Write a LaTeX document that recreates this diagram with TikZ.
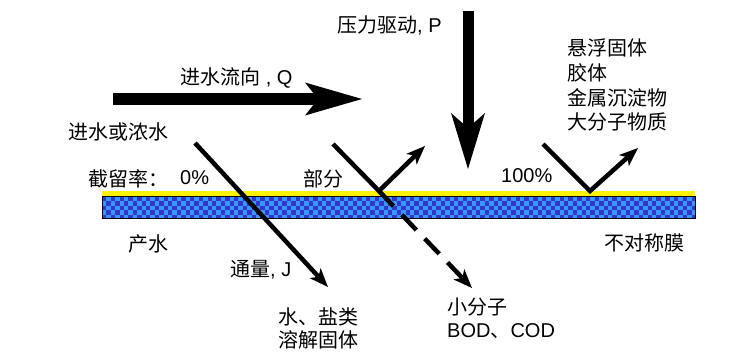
\documentclass[tikz,border=0pt]{standalone}
\usepackage{fontspec}
\setmainfont{Liberation Sans}
\newfontfamily\cjk{Noto Sans CJK SC}
\usetikzlibrary{arrows.meta}
\definecolor{lblue}{HTML}{3399FF}
\definecolor{dblue}{HTML}{3535CC}
\begin{document}
\begin{tikzpicture}[x=1pt,y=-1pt,
  txt/.style={font=\fontsize{20}{24}\selectfont, inner sep=0pt, anchor=west},
  bigarrow/.style={line width=#1},
  thinarrow/.style={line width=4.5pt, line join=miter,
     -{Stealth[length=19pt,width=15pt,inset=5pt,line width=0pt]}},
]
\useasboundingbox (0,0) rectangle (753,358);

% membrane
\fill[yellow] (102,191) rectangle (695,197);
\begin{scope}
\clip (102,197) rectangle (695,219);
\fill[lblue] (102,197) rectangle (695,219);
\foreach \j in {0,2,4}{\foreach \i in {0,2,...,134}{\fill[dblue] ({102+\i*4.4},{197+\j*4.4}) rectangle ++(4.4,4.4);}}
\foreach \j in {1,3}{\foreach \i in {1,3,...,135}{\fill[dblue] ({102+\i*4.4},{197+\j*4.4}) rectangle ++(4.4,4.4);}}
\end{scope}
\draw[line width=1pt] (102,197) rectangle (695,219);

% coordinates
\coordinate (qS) at (113,99);
\coordinate (qE) at (362,99);
\coordinate (fS) at (468,11);
\coordinate (fE) at (468,169);
\coordinate (jS) at (195,143);
\coordinate (jE) at (328,287);
\coordinate (pS) at (333,144);
\coordinate (pV) at (379,191);
\coordinate (pE) at (425,146);
\coordinate (pD) at (472,288);
\coordinate (hS) at (543,144);
\coordinate (hV) at (590,191);
\coordinate (hE) at (638,148);

% big arrows
\draw[line width=12pt, -{Stealth[length=57pt,width=33pt,inset=13pt,line width=0pt]}] (qS) -- (qE);
\draw[line width=11pt, -{Stealth[length=56pt,width=34pt,inset=15pt,line width=0pt]}] (fS) -- (fE);

% thin arrows
\draw[thinarrow] (jS) -- (jE);
\draw[thinarrow] (pS) -- (pV) -- (pE);
\draw[thinarrow, dash pattern=on 21pt off 12pt] (pV) -- (pD);
\draw[thinarrow] (hS) -- (hV) -- (hE);

% texts
\node[txt] (tP) at (337,25) {{\cjk 压力驱动}, P};
\node[txt] (tQ) at (180,78) {{\cjk 进水流向} , Q};
\node[txt] (tIn) at (68,132) {\cjk 进水或浓水};
\node[txt] (tR) at (88,179) {\cjk 截留率：};
\node[txt] (t0) at (180,178) {0\%};
\node[txt] (tPart) at (303,179) {\cjk 部分};
\node[txt] (t100) at (501,176) {100\%};
\node[txt] (l1) at (567,48) {\cjk 悬浮固体};
\node[txt] (l2) at (567,73) {\cjk 胶体};
\node[txt] (l3) at (567,98) {\cjk 金属沉淀物};
\node[txt] (l4) at (567,122) {\cjk 大分子物质};
\node[txt] (tProd) at (128,244) {\cjk 产水};
\node[txt] (tMem) at (604,243) {\cjk 不对称膜};
\node[txt] (tJ) at (230,270) {{\cjk 通量}, J};
\node[txt] (s1) at (278,317) {\cjk 水、盐类};
\node[txt] (s2) at (278,340) {\cjk 溶解固体};
\node[txt] (m1) at (447,307) {\cjk 小分子};
\node[txt] (m2) at (447,331) {B\kern0ptOD{\cjk 、}COD};
\end{tikzpicture}
\end{document}
